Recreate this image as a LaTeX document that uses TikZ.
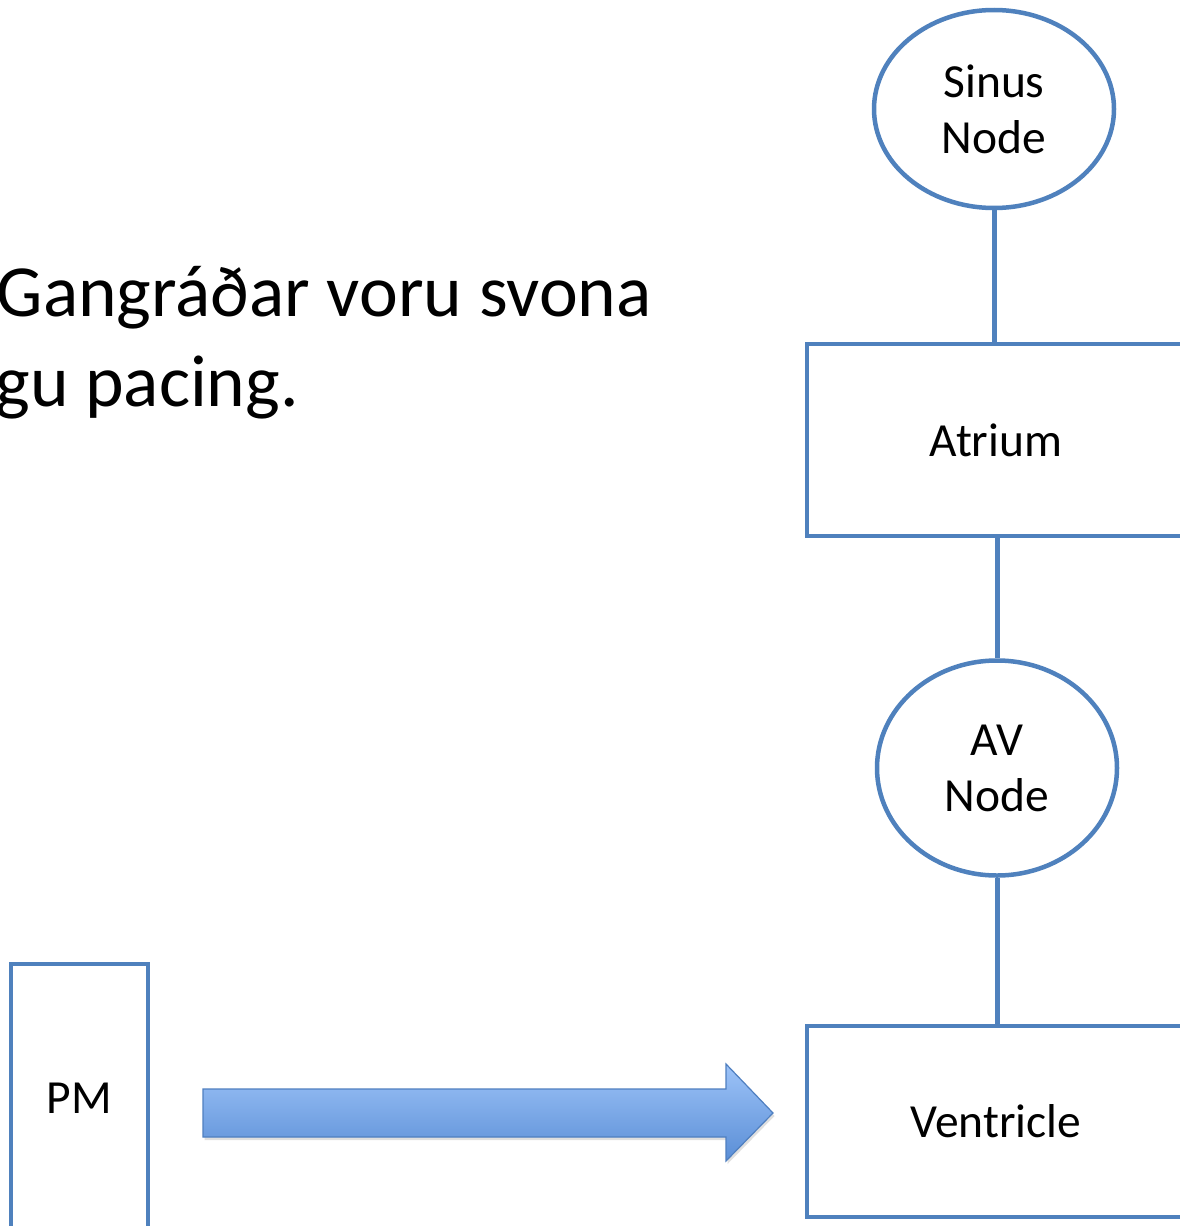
\documentclass[tikz,border=0pt]{standalone}
\usepackage{fontspec}
\setmainfont{Carlito}
\usetikzlibrary{shapes.geometric,shadows}
\definecolor{officeblue}{HTML}{4F81BD}
\definecolor{arrowtop}{HTML}{9DC3F8}
\definecolor{arrowbot}{HTML}{5A8ED6}
\definecolor{arrowedge}{HTML}{4F7FC0}
\tikzset{
  x=1pt, y=-1pt,
  lbl/.style={font=\fontsize{47.5}{56}\selectfont, align=center, text=black},
  blockbox/.style={lbl, draw=officeblue, line width=4.5pt, rectangle, inner sep=0pt},
  nodeoval/.style={lbl, draw=officeblue, line width=4.5pt, ellipse, inner sep=0pt},
  conn/.style={draw=officeblue, line width=5pt},
  headline/.style={font=\fontsize{73.5}{90}\selectfont, text=black, inner sep=0pt}
}
\begin{document}
\begin{tikzpicture}
\useasboundingbox (0,0) rectangle (1179,1226);
\fill[white] (0,0) rectangle (1179,1226);

% heading lines
\node[headline, anchor=base east] (line1) at (652,316) {Gangráðar voru svona};
\node[headline, anchor=base east] (line2) at (299,406) {gu pacing.};

% conduction chain
\node[nodeoval, minimum width=240pt, minimum height=198pt] (sinus) at (994,109) {Sinus\\Node};
\node[blockbox, minimum width=378pt, minimum height=192pt] (atrium) at (996,440) {Atrium};
\node[nodeoval, minimum width=240pt, minimum height=215pt] (avnode) at (997,768) {AV\\Node};
\node[blockbox, minimum width=378pt, minimum height=191pt] (ventricle) at (996,1121.5) {Ventricle};

\draw[conn] (sinus.south) -- (sinus.south |- atrium.north);
\draw[conn] (avnode.north |- atrium.south) -- (avnode.north);
\draw[conn] (avnode.south) -- (avnode.south |- ventricle.north);

% pacemaker
\node[blockbox, minimum width=137pt, minimum height=268pt] (pm) at (79.5,1098) {PM};

% stimulus arrow
\coordinate (a1) at (203,1089);
\coordinate (a2) at (726,1089);
\coordinate (a3) at (726,1064);
\coordinate (tip) at (773,1113);
\coordinate (a5) at (726,1161);
\coordinate (a6) at (726,1137);
\coordinate (a7) at (203,1137);
\shade[top color=arrowtop, bottom color=arrowbot, draw=arrowedge, line width=1.2pt,
  line join=miter, drop shadow={shadow xshift=1.5pt, shadow yshift=-3pt, opacity=0.25}]
  (a1) -- (a2) -- (a3) -- (tip) -- (a5) -- (a6) -- (a7) -- cycle;
\end{tikzpicture}
\end{document}
